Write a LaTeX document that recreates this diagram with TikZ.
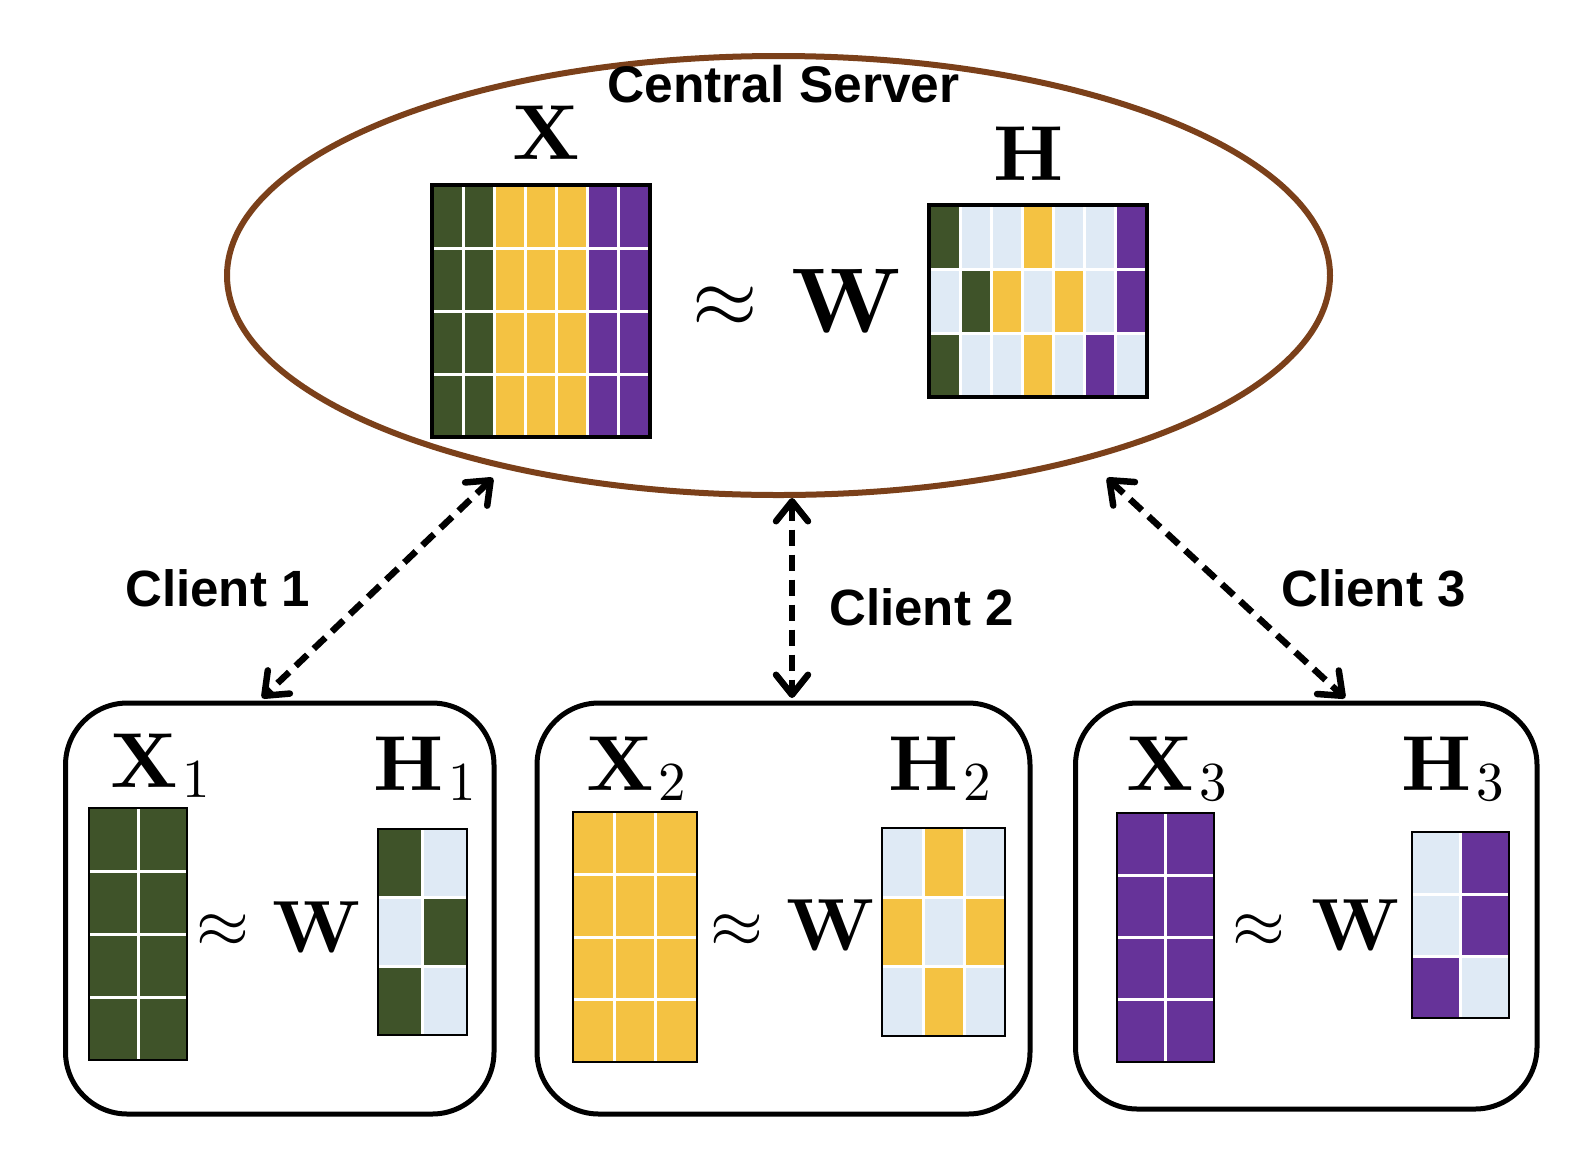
\RequirePackage{fix-cm}
\documentclass[tikz,border=0pt]{standalone}
\usepackage{fontspec}
\newfontfamily\arialfam{Liberation Sans}
\newfontfamily\lmbold{lmroman10-bold.otf}
\newfontfamily\lmreg{lmroman10-regular.otf}
\usetikzlibrary{shapes.geometric,arrows.meta}
\definecolor{cg}{HTML}{3F5329}
\definecolor{cy}{HTML}{F4C242}
\definecolor{cp}{HTML}{663399}
\definecolor{cl}{HTML}{DFEAF5}
\definecolor{brownline}{HTML}{7B401A}
% #1 x0, #2 y0, #3 cell w, #4 cell h, #5 ncols, #6 nrows, #7 rows, #8 border width
\newcommand{\drawmat}[8]{%
  \foreach \rowlist [count=\ri from 0] in {#7}{
    \foreach \cc [count=\ci from 0] in \rowlist{
      \fill[\cc] ({#1+\ci*#3},{#2+\ri*#4}) rectangle ++(#3,#4);
    }
  }
  \pgfmathtruncatemacro\ncm{#5-1}
  \pgfmathtruncatemacro\nrm{#6-1}
  \foreach \i in {1,...,\ncm}{\draw[matgrid] ({#1+\i*#3},#2) -- ++(0,{#6*#4});}
  \foreach \i in {1,...,\nrm}{\draw[matgrid] (#1,{#2+\i*#4}) -- ++({#5*#3},0);}
  \draw[line width=#8] (#1,#2) rectangle ++({#5*#3},{#6*#4});
}
\newcommand{\matsub}[2]{{\lmbold\fontsize{78}{78}\selectfont #1}\kern5pt\raisebox{-10pt}{\lmreg\fontsize{55}{55}\selectfont #2}}
\begin{document}
\begin{tikzpicture}[x=1pt,y=-1pt,
  matgrid/.style={white,line width=3pt},
  serverell/.style={ellipse,draw=brownline,line width=6pt,inner sep=0pt,minimum width=1103pt,minimum height=439pt},
  clientbox/.style={draw=black,line width=5pt,rounded corners=62pt,inner sep=0pt},
  sanslabel/.style={font=\arialfam\bfseries\fontsize{51}{51}\selectfont,inner sep=0pt,anchor=base},
  mlabel/.style={font=\lmbold\fontsize{78}{78}\selectfont,inner sep=0pt,anchor=base west},
  wbig/.style={font=\lmbold\fontsize{92}{92}\selectfont,inner sep=0pt,anchor=base},
  apbig/.style={font=\fontsize{84}{84}\selectfont,inner sep=0pt,anchor=base},
  wsmall/.style={font=\lmbold\fontsize{74}{74}\selectfont,inner sep=0pt,anchor=base},
  apsmall/.style={font=\fontsize{68}{68}\selectfont,inner sep=0pt,anchor=base},
  link/.style={line width=6.5pt,dash pattern=on 16pt off 9pt,
    {Straight Barb[length=20pt,width=32pt,round]}-{Straight Barb[length=20pt,width=32pt,round]}}
]
\useasboundingbox (0,0) rectangle (1594,1160);

% server
\node[serverell] (server) at (778.5,275.5) {};
\node[sanslabel,font=\arialfam\bfseries\fontsize{51.5}{51.5}\selectfont] (servertitle) at (783.5,102) {Central Server};
\node[mlabel] (lx) at (512,159) {X};
\node[mlabel] (lh) at (993,180) {H};
\node[apbig] (apc) at (725.5,327) {$\approx$};
\node[wbig] (wc) at (846,332) {W};
\drawmat{432}{185}{31.14}{63}{7}{4}{{cg,cg,cy,cy,cy,cp,cp},{cg,cg,cy,cy,cy,cp,cp},{cg,cg,cy,cy,cy,cp,cp},{cg,cg,cy,cy,cy,cp,cp}}{3.5pt}
\drawmat{929}{205}{31.14}{64}{7}{3}{{cg,cl,cl,cy,cl,cl,cp},{cl,cg,cy,cl,cy,cl,cp},{cg,cl,cl,cy,cl,cp,cl}}{3.5pt}

% clients
\node[clientbox,minimum width=428.5pt,minimum height=411pt] (c1) at (279.75,908.5) {};
\node[clientbox,minimum width=493pt,minimum height=411pt] (c2) at (783.5,908.5) {};
\node[clientbox,minimum width=461.5pt,minimum height=406pt] (c3) at (1306.25,906) {};

\node[mlabel] (lx1) at (110,787) {\matsub{X}{1}};
\node[mlabel] (lh1) at (373,790) {\matsub{H}{1}};
\node[mlabel] (lx2) at (586,790) {\matsub{X}{2}};
\node[mlabel] (lh2) at (888,790) {\matsub{H}{2}};
\node[mlabel] (lx3) at (1126,790) {\matsub{X}{3}};
\node[mlabel] (lh3) at (1401,790) {\matsub{H}{3}};

\node[apsmall] (ap1) at (222.5,947) {$\approx$};
\node[wsmall] (w1) at (316.5,952) {W};
\node[apsmall] (ap2) at (737,947) {$\approx$};
\node[wsmall] (w2) at (830.5,950) {W};
\node[apsmall] (ap3) at (1259,947) {$\approx$};
\node[wsmall] (w3) at (1355,950) {W};

\drawmat{89}{808}{49}{63}{2}{4}{{cg,cg},{cg,cg},{cg,cg},{cg,cg}}{2.5pt}
\drawmat{378}{829}{44.5}{68.67}{2}{3}{{cg,cl},{cl,cg},{cg,cl}}{2.5pt}
\drawmat{573}{812}{41.33}{62.5}{3}{4}{{cy,cy,cy},{cy,cy,cy},{cy,cy,cy},{cy,cy,cy}}{2.5pt}
\drawmat{882}{828}{41}{69.33}{3}{3}{{cl,cy,cl},{cy,cl,cy},{cl,cy,cl}}{2.5pt}
\drawmat{1117}{813}{48.5}{62.25}{2}{4}{{cp,cp},{cp,cp},{cp,cp},{cp,cp}}{2.5pt}
\drawmat{1412}{832}{48.5}{62}{2}{3}{{cl,cp},{cl,cp},{cp,cl}}{2.5pt}

% client labels
\node[sanslabel] (t1) at (217.5,606) {Client 1};
\node[sanslabel] (t2) at (921.5,625) {Client 2};
\node[sanslabel] (t3) at (1373.5,606) {Client 3};

% connectors
\coordinate (s1) at (493,478);
\coordinate (e1) at (262,698);
\coordinate (s2) at (792,498);
\coordinate (e2) at (792,698);
\coordinate (s3) at (1107,478);
\coordinate (e3) at (1345,698);
\draw[link] (s1) -- (e1);
\draw[link] (s2) -- (e2);
\draw[link] (s3) -- (e3);
\end{tikzpicture}
\end{document}
